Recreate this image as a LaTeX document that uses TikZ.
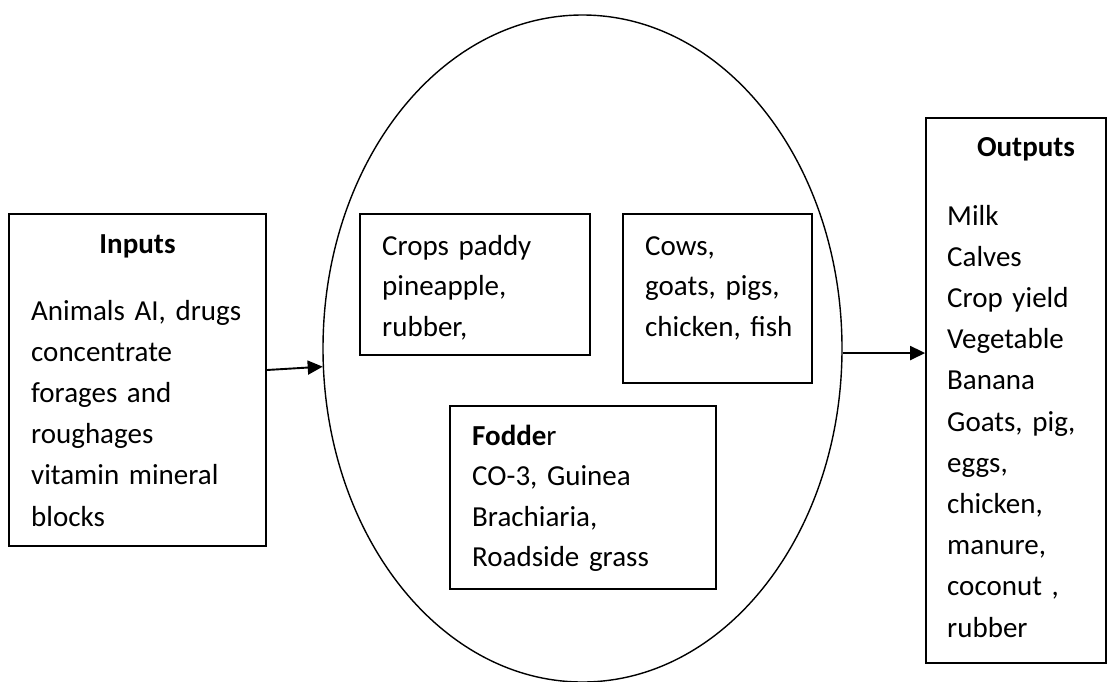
\documentclass[tikz,border=0pt]{standalone}
\usepackage{fontspec}
\setmainfont{Carlito}
\usetikzlibrary{shapes.geometric,arrows.meta}
\newcommand{\diagfont}{\fontsize{29}{40.5}\selectfont}
\newcommand{\outfont}{\fontsize{29}{41.2}\selectfont}
\begin{document}
\begin{tikzpicture}[x=1pt,y=-1pt,
  boxnode/.style={draw,line width=1.7pt,inner sep=0pt},
  txt/.style={anchor=base west,inner sep=0pt,align=left,text width=250pt,
    font=\diagfont},
  txtout/.style={anchor=base west,inner sep=0pt,align=left,text width=250pt,
    font=\outfont},
  headtxt/.style={anchor=base,inner sep=0pt,font=\fontsize{29}{40}\selectfont\bfseries},
  arr/.style={line width=1.9pt,-{Triangle[length=15pt,width=14pt]}}]
\useasboundingbox (0,0) rectangle (1116,681);
% ellipse
\node[ellipse,draw,line width=1.4pt,minimum width=519pt,minimum height=667pt,inner sep=0pt] (ell) at (582.5,348.5) {};
% boxes
\node[boxnode,minimum width=257pt,minimum height=332pt] (inbox) at (137.5,380) {};
\node[boxnode,minimum width=230pt,minimum height=141pt] (crops) at (475,284.5) {};
\node[boxnode,minimum width=189pt,minimum height=169pt] (cows) at (717.5,298.5) {};
\node[boxnode,minimum width=266pt,minimum height=183pt] (fodder) at (583,497.5) {};
\node[boxnode,minimum width=180pt,minimum height=545pt] (outbox) at (1016,390.5) {};
% texts
\node[headtxt] (inhead) at (137.5,253) {Inputs};
\node[txtout] (intext) at (31,320) {Animals AI, drugs\\concentrate\\forages and\\roughages\\vitamin mineral\\blocks};
\node[txt] (cropstext) at (382,255) {Crops paddy\\pineapple,\\rubber,};
\node[txt] (cowstext) at (645,255) {Cows,\\goats, pigs,\\chicken, fish};
\node[txt] (foddertext) at (472,445) {\textbf{Fodde}r\\CO-3, Guinea\\Brachiaria,\\Roadside grass};
\node[headtxt] (outhead) at (1026,156) {Outputs};
\node[txtout] (outtext) at (947,225) {Milk\\Calves\\Crop yield\\Vegetable\\Banana\\Goats, pig,\\eggs,\\chicken,\\manure,\\coconut ,\\rubber};
% arrows
\draw[arr] ([yshift=10pt]inbox.east) -- (ell.184);
\draw[arr] (ell.-1.43) -- (ell.-1.43 -| outbox.west);
\end{tikzpicture}
\end{document}
